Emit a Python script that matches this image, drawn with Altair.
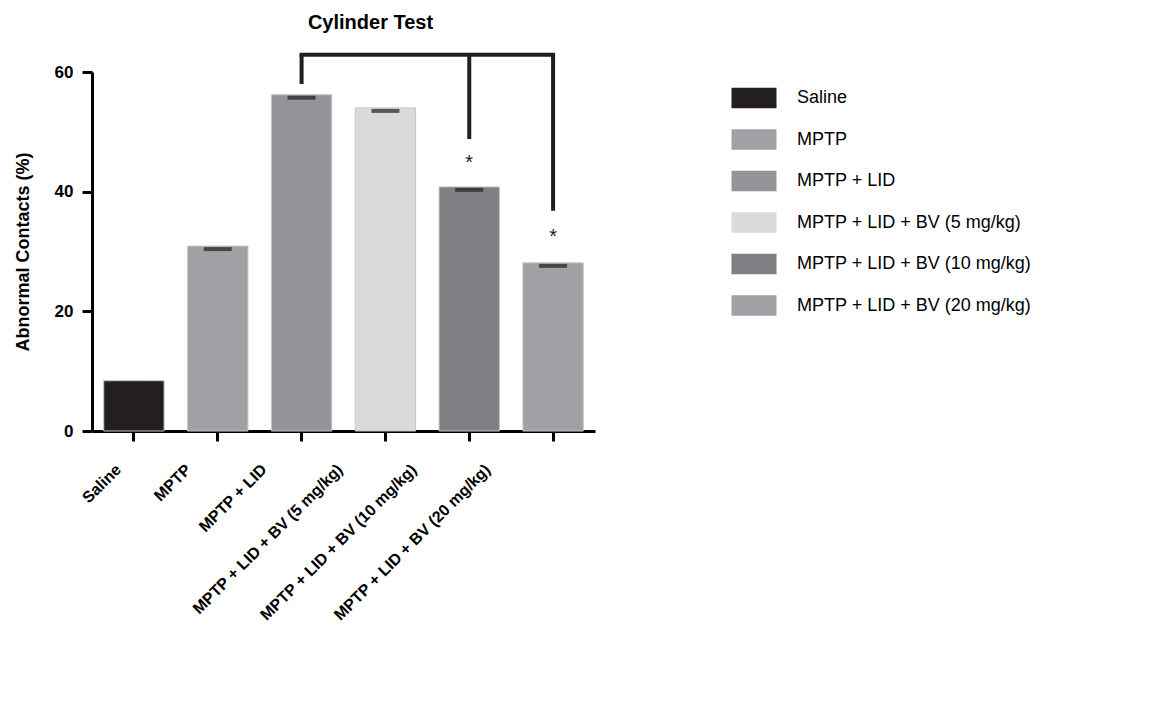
import altair as alt
import pandas as pd

groups = ["Saline", "MPTP", "MPTP + LID", "MPTP + LID + BV (5 mg/kg)",
          "MPTP + LID + BV (10 mg/kg)", "MPTP + LID + BV (20 mg/kg)"]
means = [8.4, 30.9, 56.2, 54.0, 40.8, 28.1]
err = [0.5, 0.5, 0.5, 0.5, 0.5, 0.5]
colors = ["#231f20", "#a0a1a5", "#939598", "#d9dadb", "#7f8084", "#a0a1a5"]
label_shift = [-21, -35, -43, -51, -61, -71]

bracket_groups = ["MPTP + LID", "MPTP + LID + BV (10 mg/kg)", "MPTP + LID + BV (20 mg/kg)"]
bracket_top = [62.9, 62.9, 62.9]
bracket_end = [58.0, 48.8, 36.8]
star_groups = ["MPTP + LID + BV (10 mg/kg)", "MPTP + LID + BV (20 mg/kg)"]
star_y = [44.8, 32.4]

FONT = "Liberation Sans"

df = pd.DataFrame({"group": groups, "mean": means, "err": err})
df["cap"] = df["mean"] - df["err"]
br = pd.DataFrame({"group": bracket_groups, "top": bracket_top, "end": bracket_end})
st = pd.DataFrame({"group": star_groups, "y": star_y, "t": ["*"] * len(star_groups)})

offset_cond = {
    "condition": [{"test": f"datum.value == '{g}'", "value": s}
                  for g, s in zip(groups, label_shift)],
    "value": 0,
}

xenc = alt.X("group:N", sort=groups,
             scale=alt.Scale(paddingInner=0.28, paddingOuter=0.14),
             axis=alt.Axis(title=None, labelAngle=-45, labelFont=FONT, labelFontSize=16,
                           labelFontWeight="bold", labelColor="black", labelPadding=20,
                           labelOffset=offset_cond,
                           domainColor="black", domainWidth=3, tickColor="black",
                           tickWidth=3, tickSize=10, labelLimit=400))
yscale = alt.Scale(domain=[0, 60], nice=False)

bars = alt.Chart(df).mark_bar(stroke="#c4c5c7", strokeWidth=1).encode(
    x=xenc,
    y=alt.Y("mean:Q", scale=yscale,
            axis=alt.Axis(title="Abnormal Contacts (%)", values=[0, 20, 40, 60],
                          labelFont=FONT, labelFontSize=17, labelFontWeight="bold",
                          labelColor="black", labelPadding=9,
                          titleFont=FONT, titleFontSize=18, titleFontWeight="bold",
                          titleColor="black", titlePadding=22,
                          domainColor="black", domainWidth=3, tickColor="black",
                          tickWidth=3, tickSize=10, grid=False)),
    color=alt.Color("group:N", sort=groups,
                    scale=alt.Scale(domain=groups, range=colors),
                    legend=alt.Legend(title=None, orient="none", legendX=647, legendY=11,
                                      symbolType="M-1.5,-0.68L1.5,-0.68L1.5,0.68L-1.5,0.68Z",
                                      symbolSize=900, symbolStrokeWidth=0,
                                      symbolOpacity=1,
                                      labelFont=FONT, labelFontSize=18, labelColor="black",
                                      labelOffset=28, rowPadding=15.5, labelLimit=500)),
)

caps = alt.Chart(df).mark_tick(color="#231f20", thickness=4, size=28).encode(
    x=alt.X("group:N", sort=groups), y=alt.Y("cap:Q", scale=yscale))

vrules = alt.Chart(br).mark_rule(color="#231f20", strokeWidth=4).encode(
    x=alt.X("group:N", sort=groups), y=alt.Y("top:Q", scale=yscale), y2="end:Q")

hline = alt.Chart(br).mark_line(color="#231f20", strokeWidth=4, strokeCap="square").encode(
    x=alt.X("group:N", sort=groups), y=alt.Y("top:Q", scale=yscale))

stars = alt.Chart(st).mark_text(font=FONT, fontSize=20, color="#231f20",
                                baseline="middle").encode(
    x=alt.X("group:N", sort=groups), y=alt.Y("y:Q", scale=yscale), text="t:N")

chart = alt.layer(bars, caps, vrules, hline, stars).properties(
    width=503, height=359,
    title=alt.TitleParams("Cylinder Test", font=FONT, fontSize=20, fontWeight="bold",
                          color="black", anchor="middle", dx=27, offset=14),
    autosize=alt.AutoSizeParams(type="none"),
    padding={"left": 84, "top": 64, "right": 546, "bottom": 289},
).configure_view(stroke=None).configure_axis(grid=False)

chart.save("out.html", embed_options={"renderer": "svg", "actions": False})
